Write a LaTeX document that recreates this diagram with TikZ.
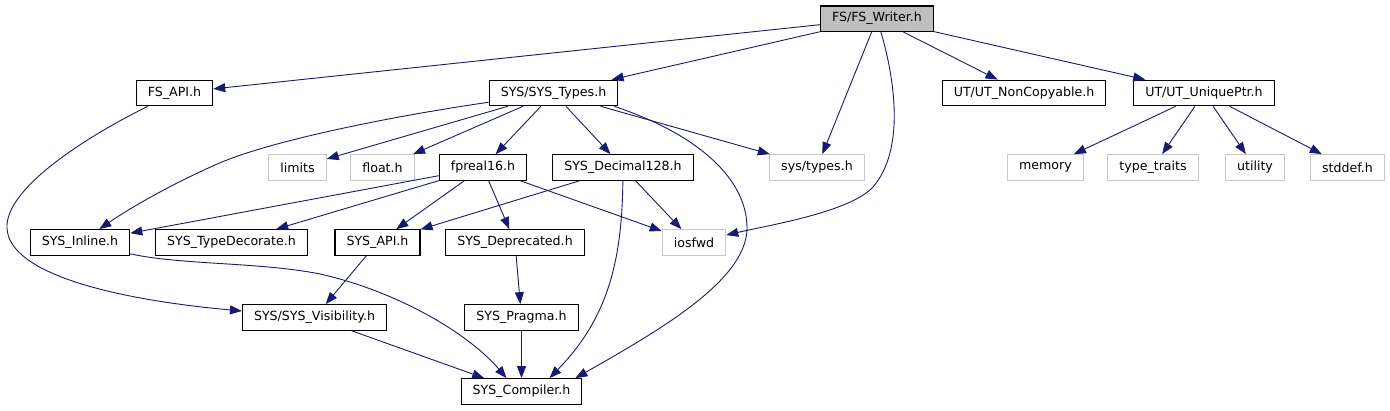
\documentclass[tikz,border=0pt]{standalone}
\usepackage{fontspec}
\setmainfont{DejaVu Sans}
\usepackage{xcolor}
\usetikzlibrary{arrows.meta}
\definecolor{edgeblue}{HTML}{191970}
\definecolor{nodegray}{HTML}{BFBFBF}
\definecolor{extgray}{HTML}{C8C8C8}

\begin{document}
\begin{tikzpicture}[x=1pt, y=-1pt,
    font=\fontsize{12.6}{15}\selectfont,
    hdr/.style={draw=black, line width=1.2pt, fill=white, inner xsep=11.5pt, inner ysep=0pt, minimum height=25.5pt},
    rooth/.style={hdr, fill=nodegray},
    sysh/.style={hdr, draw=extgray},
    inc/.style={draw=edgeblue, line width=0.9pt, -{Triangle[length=12pt, width=9pt]}}]
  \useasboundingbox (0,0) rectangle (1390,411);

  % top file
  \node[rooth] (writer) at (877,18.7) {FS/FS\_Writer.h};

  % first level
  \node[hdr] (fsapi) at (174.5,93) {FS\_API.h};
  \node[hdr] (types) at (553.5,93) {SYS/SYS\_Types.h};
  \node[hdr] (noncopy) at (1024,93) {UT/UT\_NonCopyable.h};
  \node[hdr] (uniq) at (1204,93) {UT/UT\_UniquePtr.h};

  % second level
  \node[sysh] (limits) at (297.5,167.5) {limits};
  \node[sysh] (floath) at (382.5,167.5) {float.h};
  \node[hdr] (fpreal) at (483,167.5) {fpreal16.h};
  \node[hdr] (dec128) at (623,167.5) {SYS\_Decimal128.h};
  \node[sysh] (systypes) at (817,167.5) {sys/types.h};
  \node[sysh] (memory) at (1045.5,167.5) {memory};
  \node[sysh] (typetraits) at (1153,167.5) {type\_traits};
  \node[sysh] (utility) at (1255,167.5) {utility};
  \node[sysh] (stddef) at (1347.5,167.5) {stddef.h};

  % third level
  \node[hdr] (inline) at (80,242.5) {SYS\_Inline.h};
  \node[hdr] (typedec) at (231.5,242.5) {SYS\_TypeDecorate.h};
  \node[hdr] (api) at (377.5,242.5) {SYS\_API.h};
  \node[hdr] (deprec) at (515,242.5) {SYS\_Deprecated.h};
  \node[sysh] (iosfwd) at (694,242.5) {iosfwd};

  % bottom
  \node[hdr] (visib) at (314.5,317.5) {SYS/SYS\_Visibility.h};
  \node[hdr] (pragma) at (521.5,317.5) {SYS\_Pragma.h};
  \node[hdr] (compiler) at (521.5,391.5) {SYS\_Compiler.h};

  % includes of FS_Writer.h
  \draw[inc] (writer) -- (fsapi);
  \draw[inc] (writer) -- (types);
  \draw[inc] (writer) -- (systypes);
  \draw[inc] (writer) -- (noncopy);
  \draw[inc] (writer) -- (uniq);
  \draw[inc] (writer) .. controls (895,80) and (905,150) .. (873,187)
    .. controls (850,212) and (770,225) .. (iosfwd);

  \draw[inc] (fsapi) .. controls (80,140) and (5,190) .. (7,228)
    .. controls (9,275) and (120,300) .. (visib);

  % includes of SYS_Types.h
  \draw[inc] (types) .. controls (400,115) and (270,140) .. (215,165)
    .. controls (170,185) and (130,208) .. (inline);
  \draw[inc] (types) -- (limits);
  \draw[inc] (types) -- (floath);
  \draw[inc] (types) -- (fpreal);
  \draw[inc] (types) -- (dec128);
  \draw[inc] (types) -- (systypes);
  \draw[inc] ([xshift=-4pt]types.south east) .. controls (700,135) and (747,180) .. (747,228)
    .. controls (747,280) and (660,330) .. ([xshift=-7pt]compiler.north east);

  % fpreal16.h
  \draw[inc] (fpreal) -- (inline);
  \draw[inc] (fpreal) -- (typedec);
  \draw[inc] (fpreal) -- (api);
  \draw[inc] (fpreal) -- (deprec);
  \draw[inc] (fpreal) -- (iosfwd);

  % SYS_Decimal128.h
  \draw[inc] (dec128) -- (api);
  \draw[inc] (dec128) -- (iosfwd);
  \draw[inc] (dec128) .. controls (622,265) and (606,320) .. ([xshift=28pt]compiler.north);

  \draw[inc] (inline) .. controls (180,265) and (260,262) .. (320,274)
    .. controls (400,292) and (470,335) .. ([xshift=-15pt]compiler.north);
  \draw[inc] (api) -- (visib);
  \draw[inc] (deprec) -- (pragma);
  \draw[inc] (visib) -- (compiler);
  \draw[inc] (pragma) -- (compiler);

  % UT_UniquePtr.h
  \draw[inc] (uniq) -- (memory);
  \draw[inc] (uniq) -- (typetraits);
  \draw[inc] (uniq) -- (utility);
  \draw[inc] (uniq) -- (stddef);
\end{tikzpicture}
\end{document}
